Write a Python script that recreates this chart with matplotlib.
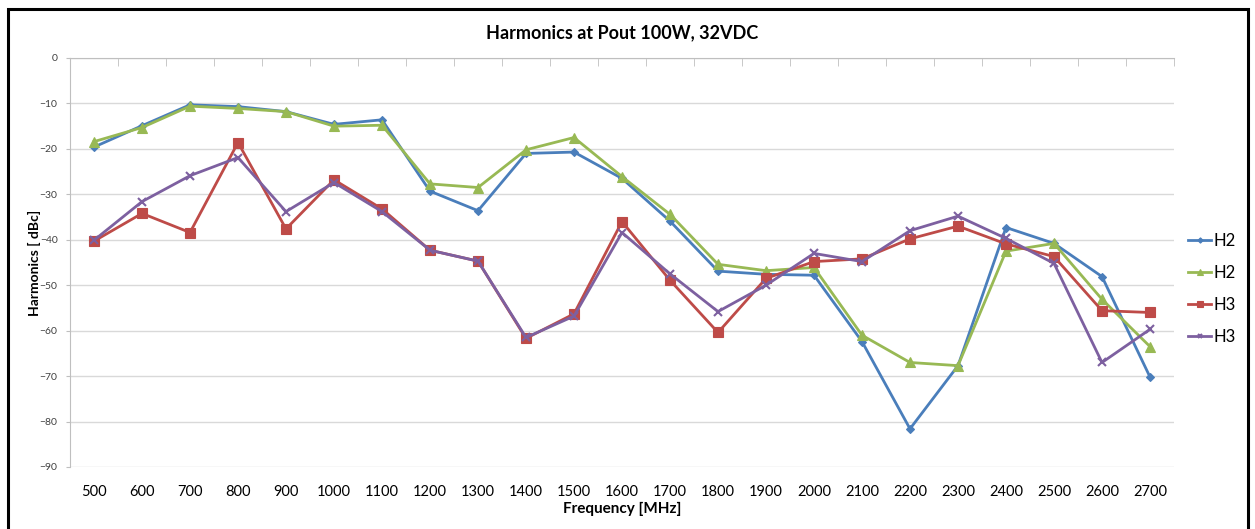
import numpy as np
import matplotlib
matplotlib.use("Agg")
import matplotlib.pyplot as plt
from matplotlib.patches import Rectangle
from matplotlib.ticker import MultipleLocator, FixedLocator

plt.rcParams['font.family'] = ['Lato', 'DejaVu Sans']

# data
freqs = [500, 600, 700, 800, 900, 1000, 1100, 1200, 1300, 1400, 1500, 1600,
         1700, 1800, 1900, 2000, 2100, 2200, 2300, 2400, 2500, 2600, 2700]
h2_a = [-19.6, -14.9, -10.3, -10.7, -11.8, -14.6, -13.6, -29.3, -33.6, -21.0, -20.7, -26.5,
        -35.9, -46.9, -47.6, -47.8, -62.4, -81.6, -67.7, -37.3, -40.8, -48.1, -70.2]
h2_b = [-18.4, -15.3, -10.6, -11.1, -11.8, -15.0, -14.8, -27.7, -28.5, -20.2, -17.5, -26.1,
        -34.4, -45.4, -46.8, -46.1, -61.0, -67.0, -67.7, -42.5, -40.8, -53.1, -63.5]
h3_a = [-40.3, -34.2, -38.4, -18.6, -37.6, -26.8, -33.2, -42.3, -44.7, -61.7, -56.3, -36.0,
        -48.9, -60.4, -48.5, -44.8, -44.2, -39.8, -37.0, -40.9, -43.7, -55.6, -56.0]
h3_b = [-40.1, -31.6, -25.9, -21.9, -33.8, -27.4, -33.8, -42.3, -44.7, -61.5, -56.8, -38.4,
        -47.5, -55.8, -50.0, -43.0, -44.8, -38.0, -34.8, -39.7, -45.2, -67.0, -59.7]

series = [
    ('H2', h2_a, '#4A7EBB', 'D', 4.5),
    ('H2', h2_b, '#98B954', '^', 7),
    ('H3', h3_a, '#BE4B48', 's', 6.5),
    ('H3', h3_b, '#7D60A0', 'x', 6),
]

W, H = 1255, 529
fig = plt.figure(figsize=(W / 100, H / 100), dpi=100)
ax = fig.add_axes([70 / W, (H - 467) / H, (1174 - 70) / W, (467 - 58) / H])

x = np.arange(len(freqs))
for label, vals, color, marker, ms in series:
    ax.plot(x, vals, color=color, lw=2, marker=marker, ms=ms, mew=1.5 if marker == 'x' else 0.8,
            mec=color, mfc=color, label=label)

ax.set_xlim(-0.5, len(freqs) - 0.5)
ax.set_ylim(-90, 0)
ax.yaxis.set_major_locator(MultipleLocator(10))
ax.grid(axis='y', color='#d9d9d9', lw=1)
ax.set_axisbelow(True)

ax.set_xticks(x)
ax.set_xticklabels([str(f) for f in freqs], fontsize=10.5)
ax.tick_params(axis='x', which='major', length=0, pad=13)
ax.xaxis.set_minor_locator(FixedLocator(np.arange(-0.5, len(freqs), 1.0)[1:]))
ax.tick_params(axis='x', which='minor', top=True, bottom=False, direction='in',
               length=6, color='#bfbfbf')
ax.tick_params(axis='y', labelsize=7.5, labelcolor='#404040', length=3, color='#bfbfbf', pad=6)

for side in ['right', 'bottom']:
    ax.spines[side].set_visible(False)
for side in ['left', 'top']:
    ax.spines[side].set_color('#bfbfbf')

ax.set_xlabel('Frequency [MHz]', fontsize=11, fontweight='bold', labelpad=2)
ax.set_ylabel('Harmonics [ dBc]', fontsize=10, fontweight='bold')
ax.yaxis.set_label_coords((41 - 70) / (1174 - 70), 0.5)
fig.text(0.5 * (70 + 1174) / W, 1 - 33 / H, 'Harmonics at Pout 100W, 32VDC',
         ha='center', va='center', fontsize=13, fontweight='bold')

leg = fig.legend(loc='center left', bbox_to_anchor=(1188 / W, 1 - 289 / H), frameon=False,
                 fontsize=12, handlelength=1.4, handletextpad=0.15, labelspacing=0.95,
                 markerscale=0.6, borderpad=0, borderaxespad=0)

fig.patches.append(Rectangle((8 / W, -0.05), (1248 - 8) / W, (H - 9) / H + 0.05,
                             transform=fig.transFigure, fill=False, ec='black', lw=2.2))

fig.savefig('out.png', dpi=100)
